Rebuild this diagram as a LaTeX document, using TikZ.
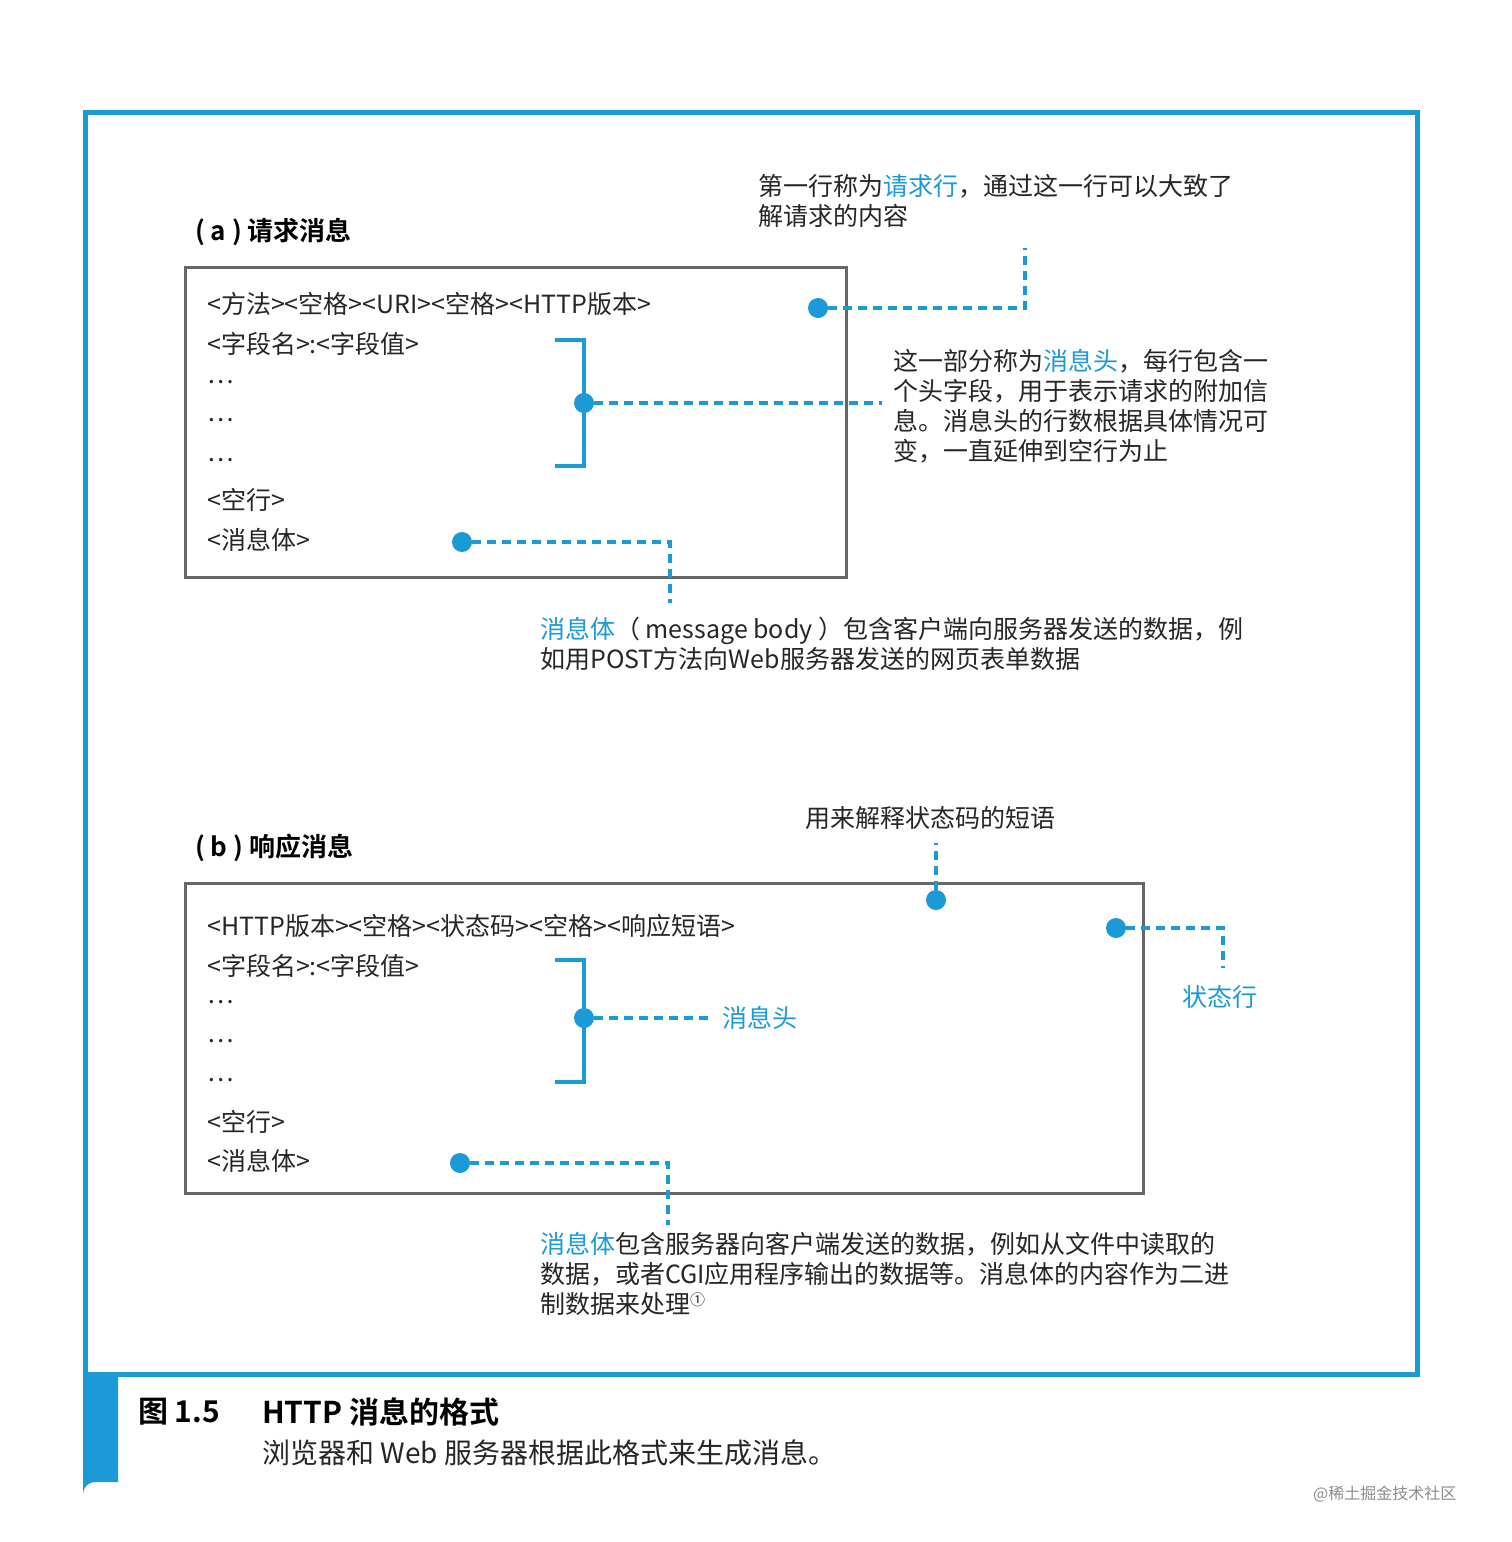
\documentclass[tikz,border=0pt]{standalone}
\usepackage{fontspec}
\setmainfont{Noto Sans CJK SC}
\newfontfamily\boldcjk{Noto Sans CJK SC Bold}
\definecolor{hblue}{HTML}{1B9AD7}
\definecolor{hgray}{HTML}{666666}
\begin{document}
\begin{tikzpicture}[x=1pt,y=-1pt,
  txt/.style={anchor=west,inner sep=0,font=\fontsize{25}{30}\selectfont,text=black!85},
  bl/.style={text=hblue},
  dot/.style={circle,fill=hblue,inner sep=0,minimum size=20pt},
  dl/.style={hblue,line width=3.5pt,dash pattern=on 9pt off 6pt},
  box/.style={draw=hgray,line width=3pt},
  brk/.style={hblue,line width=4pt},
  ttl/.style={anchor=west,inner sep=0,font=\fontsize{26}{30}\boldcjk}]
\fill[white] (0,0) rectangle (1512,1542);
\draw[hblue,line width=5pt] (85,112) rectangle (1417,1374);
\fill[hblue] (83,1372) -- (118,1372) -- (118,1482) -- (95,1482) arc (270:180:12) -- cycle;
\node[ttl,font=\fontsize{30}{34}\boldcjk] (cap1) at (138,1412) {图 1.5};
\node[ttl,font=\fontsize{30}{34}\boldcjk] (cap2) at (262,1412) {HTTP 消息的格式};
\node[txt,font=\fontsize{28}{32}\selectfont] (cap3) at (262,1453) {浏览器和 Web 服务器根据此格式来生成消息。};
\node[txt,font=\fontsize{16}{18}\selectfont,text=black!45] (wm) at (1313,1494) {@稀土掘金技术社区};

% (a)
\node[ttl] (ta) at (195,232) {( a ) 请求消息};
\draw[box] (185,267) rectangle (846,577);
\node[txt] (a1) at (207,304) {<方法><空格><URI><空格><HTTP版本>};
\node[txt] (a2) at (207,344) {<字段名>:<字段值>};
\node[txt] (a3) at (207,382) {…};
\node[txt] (a4) at (207,420) {…};
\node[txt] (a5) at (207,460) {…};
\node[txt] (a6) at (207,500) {<空行>};
\node[txt] (a7) at (207,540) {<消息体>};
\draw[brk] (555,340) -- (584,340) -- (584,466) -- (555,466);
\node[dot] (ad1) at (818,308) {};
\coordinate (ac1) at (1025,308); \coordinate (ac1e) at (1025,248);
\draw[dl] (ad1) -- (ac1) -- (ac1e);
\node[txt,align=left,anchor=north west] (at1) at (758,174) {第一行称为\textcolor{hblue}{请求行}，通过这一行可以大致了\\解请求的内容};
\node[dot] (ad2) at (584,403) {};
\coordinate (ac2) at (882,403);
\draw[dl] (ad2) -- (ac2);
\node[txt,align=left,anchor=north west] (at2) at (893,349) {这一部分称为\textcolor{hblue}{消息头}，每行包含一\\个头字段，用于表示请求的附加信\\息。消息头的行数根据具体情况可\\变，一直延伸到空行为止};
\node[dot] (ad3) at (462,542) {};
\coordinate (ac3) at (670,542); \coordinate (ac3e) at (670,603);
\draw[dl] (ad3) -- (ac3) -- (ac3e);
\node[txt,align=left,anchor=north west] (at3) at (540,617) {\textcolor{hblue}{消息体}（ message body ）包含客户端向服务器发送的数据，例\\如用POST方法向Web服务器发送的网页表单数据};

% (b)
\node[ttl] (tb) at (195,848) {( b ) 响应消息};
\draw[box] (185,883) rectangle (1143,1193);
\node[txt] (b1) at (207,926) {<HTTP版本><空格><状态码><空格><响应短语>};
\node[txt] (b2) at (207,966) {<字段名>:<字段值>};
\node[txt] (b3) at (207,1002) {…};
\node[txt] (b4) at (207,1041) {…};
\node[txt] (b5) at (207,1080) {…};
\node[txt] (b6) at (207,1122) {<空行>};
\node[txt] (b7) at (207,1161) {<消息体>};
\draw[brk] (555,960) -- (584,960) -- (584,1082) -- (555,1082);
\node[dot] (bd1) at (584,1018) {};
\node[txt,bl] (bt1) at (722,1018) {消息头};
\draw[dl] (bd1) -- (708,1018);
\node[dot] (bd2) at (936,900) {};
\node[txt,anchor=center] (bt2) at (930,818) {用来解释状态码的短语};
\draw[dl] (bd2) -- (936,843);
\node[dot] (bd3) at (1116,928) {};
\draw[dl] (bd3) -- (1223,928) -- (1223,968);
\node[txt,bl,anchor=center] (bt3) at (1220,997) {状态行};
\node[dot] (bd4) at (460,1163) {};
\draw[dl] (bd4) -- (668,1163) -- (668,1225);
\node[txt,align=left,anchor=north west] (bt4) at (540,1232) {\textcolor{hblue}{消息体}包含服务器向客户端发送的数据，例如从文件中读取的\\数据，或者CGI应用程序输出的数据等。消息体的内容作为二进\\制数据来处理\raisebox{8pt}{\fontsize{15}{15}\selectfont ①}};
\end{tikzpicture}
\end{document}
